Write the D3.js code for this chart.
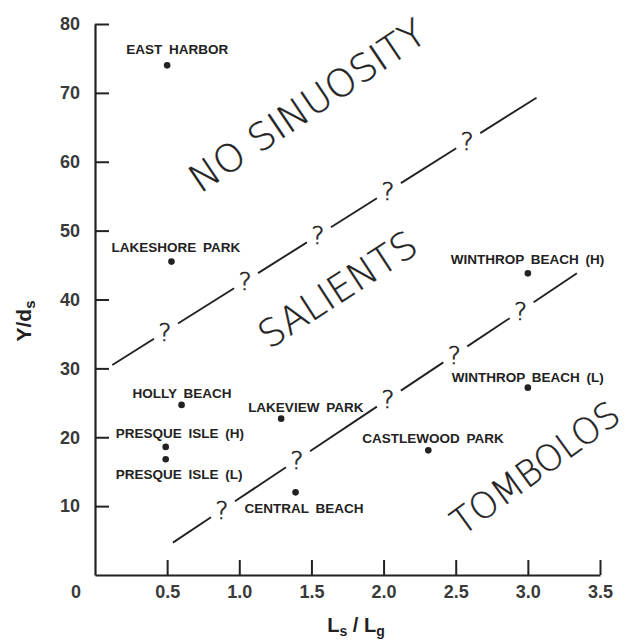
<!DOCTYPE html>
<html>
<head>
<meta charset="utf-8">
<script src="https://cdn.jsdelivr.net/npm/d3@7"></script>
<style>
  html, body { margin: 0; padding: 0; background: #ffffff; }
  svg { display: block; }
</style>
</head>
<body>
<script>
// ---- data ----
const xTickValues = [0.5, 1.0, 1.5, 2.0, 2.5, 3.0, 3.5];
const yTickValues = [10, 20, 30, 40, 50, 60, 70, 80];
const sites = ["EAST HARBOR", "LAKESHORE PARK", "HOLLY BEACH", "LAKEVIEW PARK",
  "PRESQUE ISLE (H)", "PRESQUE ISLE (L)", "CENTRAL BEACH", "CASTLEWOOD PARK",
  "WINTHROP BEACH (L)", "WINTHROP BEACH (H)"];
const lsOverLg = [0.50, 0.53, 0.60, 1.29, 0.49, 0.49, 1.39, 2.31, 3.00, 3.00];
const yOverDs = [74.0, 45.5, 24.7, 22.7, 18.6, 16.8, 12.0, 18.1, 27.2, 43.8];

const upperLineX = [0.12, 3.06];
const upperLineY = [30.5, 69.3];
const upperQuestionX = [0.485, 1.04, 1.545, 2.03, 2.58];
const lowerLineX = [0.54, 3.34];
const lowerLineY = [4.7, 43.8];
const lowerQuestionX = [0.88, 1.40, 2.03, 2.49, 2.95];

const regionNames = ["NO SINUOSITY", "SALIENTS", "TOMBOLOS"];
const regionX = [1.47, 1.68, 3.05];
const regionY = [68.2, 41.5, 15.6];

// ---- layout (not data) ----
const labelDx = [-41, -60, -49, -33, -50, -50, -51, -66, -76, -77];
const labelDy = [-11, -10, -7, -7, -9, 20, 21, -7, -6, -9];
const regionAngle = [-34, -33, -36];
const regionLength = [276, 180, 198];
const regionSize = [38, 38, 36];

const W = 640, H = 641;
const svg = d3.select("body").append("svg").attr("width", W).attr("height", H);
svg.append("rect").attr("width", W).attr("height", H).attr("fill", "#fff");

const x = d3.scaleLinear().domain([0, 3.5]).range([95, 600]);
const y = d3.scaleLinear().domain([0, 80]).range([575, 24]);

const ink = "#222";
const tickFont = "'Liberation Sans', Arial, sans-serif";

// axes
const yAxis = d3.axisLeft(y).tickValues(yTickValues).tickFormat(d3.format("d"))
  .tickSize(-14).tickSizeOuter(0).tickPadding(15);
const gy = svg.append("g").attr("transform", `translate(${x(0)},0)`).call(yAxis);

const xAxis = d3.axisBottom(x).tickValues(xTickValues).tickFormat(d3.format(".1f"))
  .tickSize(-15).tickSizeOuter(0).tickPadding(10);
const gx = svg.append("g").attr("transform", `translate(0,${y(0)})`).call(xAxis);

[gx, gy].forEach(g => {
  g.select(".domain").attr("stroke", ink).attr("stroke-width", 2.2);
  g.selectAll(".tick line").attr("stroke", ink).attr("stroke-width", 2);
  g.selectAll(".tick text").attr("fill", "#3a3a3a")
    .attr("font-family", tickFont).attr("font-size", 18).attr("font-weight", 600);
});

// the shared "0" label at the origin
svg.append("text").attr("x", x(0) - 19).attr("y", y(0) + 23)
  .attr("text-anchor", "middle").attr("fill", "#3a3a3a")
  .attr("font-family", tickFont).attr("font-size", 18).attr("font-weight", 600)
  .text("0");

// axis titles
const xt = svg.append("text").attr("x", 356).attr("y", 632).attr("text-anchor", "middle")
  .attr("font-family", tickFont).attr("font-size", 20).attr("font-weight", "bold").attr("fill", ink);
xt.append("tspan").text("L");
xt.append("tspan").attr("font-size", 14).attr("dy", 4).text("s");
xt.append("tspan").attr("dy", -4).text(" / L");
xt.append("tspan").attr("font-size", 14).attr("dy", 4).text("g");

const yt = svg.append("text").attr("transform", "translate(31,321) rotate(-90)")
  .attr("text-anchor", "middle")
  .attr("font-family", tickFont).attr("font-size", 21).attr("font-weight", "bold").attr("fill", ink);
yt.append("tspan").text("Y/d");
yt.append("tspan").attr("font-size", 15).attr("dy", 4).text("s");

// boundary lines with question marks
const thinFont = "'DejaVu Sans', 'Open Sans', sans-serif";
function boundary(lx, ly, qx) {
  const yAt = xd => ly[0] + (ly[1] - ly[0]) * (xd - lx[0]) / (lx[1] - lx[0]);
  const gapL = 11, gapR = 13;
  const cuts = [];
  let start = x(lx[0]);
  qx.forEach(q => {
    cuts.push([start, x(q) - gapL]);
    start = x(q) + gapR;
  });
  cuts.push([start, x(lx[1])]);
  svg.append("g").selectAll("line").data(cuts).join("line")
    .attr("x1", d => d[0]).attr("y1", d => y(yAt(x.invert(d[0]))))
    .attr("x2", d => d[1]).attr("y2", d => y(yAt(x.invert(d[1]))))
    .attr("stroke", ink).attr("stroke-width", 1.9);
  svg.append("g").selectAll("text").data(qx).join("text")
    .attr("x", d => x(d)).attr("y", d => y(yAt(d)))
    .attr("text-anchor", "middle").attr("dy", "0.36em")
    .attr("font-family", thinFont).attr("font-weight", 200)
    .attr("font-size", 25).attr("fill", ink)
    .attr("stroke", ink).attr("stroke-width", 0.6).text("?");
}
boundary(upperLineX, upperLineY, upperQuestionX);
boundary(lowerLineX, lowerLineY, lowerQuestionX);

// region names
svg.append("g").selectAll("text").data(regionNames).join("text")
  .attr("transform", (d, i) => `translate(${x(regionX[i])},${y(regionY[i])}) rotate(${regionAngle[i]})`)
  .attr("text-anchor", "middle").attr("dy", "0.36em")
  .attr("font-family", thinFont).attr("font-weight", 200).attr("font-size", (d, i) => regionSize[i])
  .attr("textLength", (d, i) => regionLength[i]).attr("lengthAdjust", "spacingAndGlyphs")
  .attr("fill", ink).attr("stroke", ink).attr("stroke-width", 0.35).text(d => d);

// points
svg.append("g").selectAll("circle").data(sites).join("circle")
  .attr("cx", (d, i) => x(lsOverLg[i])).attr("cy", (d, i) => y(yOverDs[i]))
  .attr("r", 3.3).attr("fill", ink);

svg.append("g").selectAll("text").data(sites).join("text")
  .attr("x", (d, i) => x(lsOverLg[i]) + labelDx[i])
  .attr("y", (d, i) => y(yOverDs[i]) + labelDy[i])
  .attr("font-family", tickFont).attr("font-size", 13.5).attr("font-weight", "bold")
  .attr("word-spacing", 3).attr("fill", ink).text(d => d);
</script>
</body>
</html>
